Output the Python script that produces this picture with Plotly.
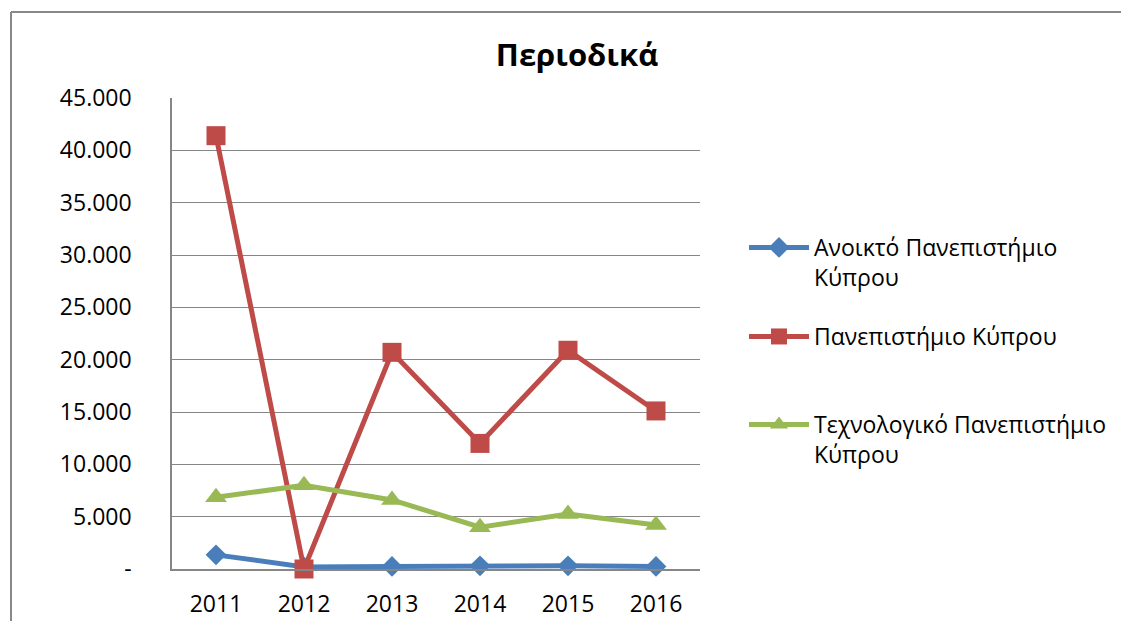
import plotly.graph_objects as go

years = ["2011", "2012", "2013", "2014", "2015", "2016"]
series_names = [
    "Ανοικτό Πανεπιστήμιο<br>Κύπρου",
    "Πανεπιστήμιο Κύπρου",
    "Τεχνολογικό Πανεπιστήμιο<br>Κύπρου",
]
open_univ = [1350, 200, 250, 300, 300, 250]
univ_cyprus = [41400, 0, 20700, 12000, 20900, 15100]
tech_univ = [6850, 8000, 6600, 4000, 5250, 4200]
y_tickvals = [0, 5000, 10000, 15000, 20000, 25000, 30000, 35000, 40000, 45000]
y_ticktext = ["-", "5.000", "10.000", "15.000", "20.000", "25.000", "30.000", "35.000", "40.000", "45.000"]
title_text = "Περιοδικά"

colors = ["#4A7EBB", "#BE4B48", "#98B954"]
symbols = ["diamond", "square", "triangle-up"]
sizes = [16, 19, 19]
legends = ["legend", "legend2", "legend3"]
FONT = "Open Sans, Noto Sans, sans-serif"

# the page body adds an 8px margin; design in page pixels and compensate
OFF = 8
PAGE_W, PAGE_H = 1129, 621
W, H = PAGE_W - OFF, PAGE_H - OFF
L, R, T, B = 172 - OFF, PAGE_W - 700, 98 - OFF, PAGE_H - 569
pw, ph = W - L - R, H - T - B

def px_x(x):
    return (x - OFF - L) / pw

def px_y(y):
    return (H - B - (y - OFF)) / ph

fig = go.Figure()
for name, vals, c, s, sz, lg in zip(series_names, [open_univ, univ_cyprus, tech_univ], colors, symbols, sizes, legends):
    fig.add_trace(go.Scatter(
        x=years, y=vals, name=name, mode="lines+markers",
        line=dict(color=c, width=5),
        marker=dict(symbol=s, size=sz, color=c),
        cliponaxis=False, legend=lg,
    ))

legend_common = dict(
    font=dict(family=FONT, size=23, color="#000000"),
    bgcolor="rgba(0,0,0,0)", borderwidth=0,
    xanchor="left", yanchor="top", itemwidth=60, valign="top",
)
fig.update_layout(
    width=W, height=H,
    margin=dict(l=L, r=R, t=T, b=B, autoexpand=False),
    paper_bgcolor="white", plot_bgcolor="white",
    font=dict(family=FONT, size=23, color="#000000"),
    title=dict(text="<b>" + title_text + "</b>", font=dict(family=FONT, size=31, color="#000000"),
               xref="container", yref="container", x=(577 - OFF) / W, y=1 - (55 - OFF) / H,
               xanchor="center", yanchor="middle"),
    xaxis=dict(type="category", range=[-0.5, 5.5], showgrid=False, automargin=False,
               showline=True, linecolor="#868686", linewidth=1.5,
               ticks="", ticklabelstandoff=14, tickfont=dict(size=23)),
    yaxis=dict(range=[0, 45000], tickvals=y_tickvals, ticktext=y_ticktext, automargin=False,
               showgrid=True, gridcolor="#868686", gridwidth=1.2,
               showline=True, linecolor="#868686", linewidth=1.5,
               zeroline=False, ticks="", ticklabelstandoff=34, tickfont=dict(size=23)),
    showlegend=True,
    legend=dict(x=px_x(744), y=px_y(226), **legend_common),
    legend2=dict(x=px_x(744), y=px_y(315), **legend_common),
    legend3=dict(x=px_x(744), y=px_y(403), **legend_common),
    shapes=[
        dict(type="line", xref="paper", yref="paper", x0=px_x(11), x1=px_x(1140),
             y0=px_y(12), y1=px_y(12), line=dict(color="#888888", width=2)),
        dict(type="line", xref="paper", yref="paper", x0=px_x(11), x1=px_x(11),
             y0=px_y(12), y1=px_y(640), line=dict(color="#888888", width=2)),
    ],
)

fig.write_html("out.html")
